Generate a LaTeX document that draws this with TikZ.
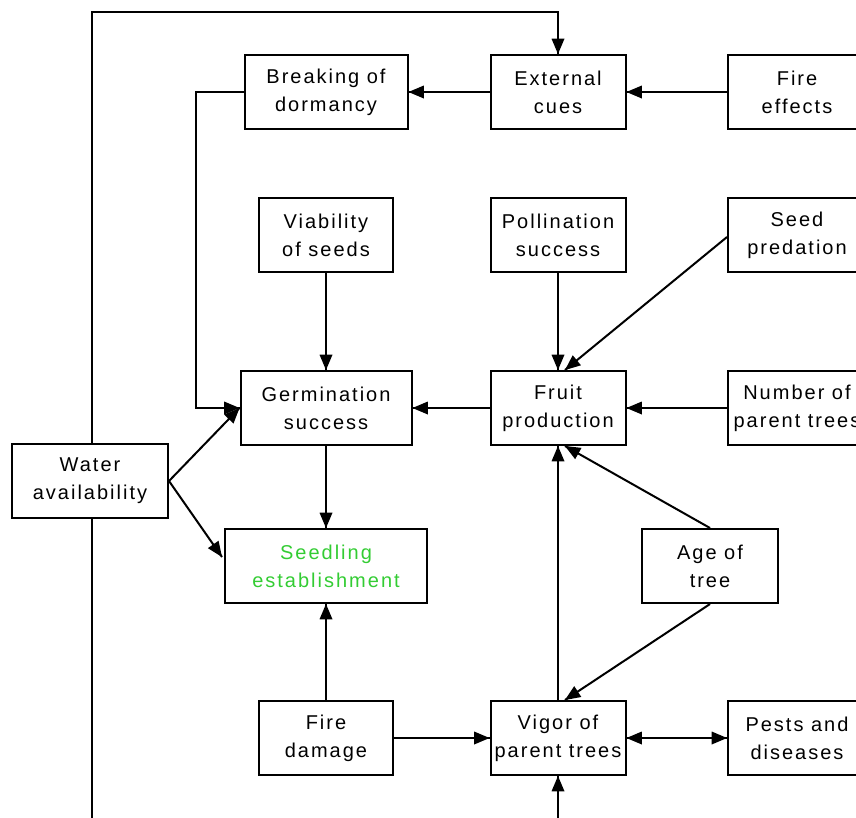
\documentclass[tikz,border=0pt]{standalone}
\usepackage{fontspec}
\newfontfamily\boxfont[LetterSpace=10]{Liberation Sans}
\usepackage{tikz}
\usetikzlibrary{calc}
\usetikzlibrary{arrows,decorations.markings}
\definecolor{seedgreen}{RGB}{51,204,51}
\tikzset{
  box/.style={draw, line width=2pt, inner sep=0pt, align=center,
    minimum width=135pt, minimum height=74pt,
    font=\boxfont\fontsize{20}{28}\selectfont},
  link/.style={line width=2pt},
}

\begin{document}
\begin{tikzpicture}
% define arrow head
[
    x=1pt, y=-1pt,
    decoration={
      markings,
      mark=at position 1 with {\arrow[scale=1.2,black]{triangle 45}};
    }
]
\useasboundingbox (0,0) rectangle (856,817);
\clip (0,0) rectangle (856,817);

% top row
\node[box, minimum width=163pt] (brk) at (326,92) {Breaking of\\dormancy};
\node[box] (ext) at (558,92) {External\\cues};
\node[box, minimum width=138pt] (fef) at (797,92) {Fire\\effects};

% second row
\node[box, minimum width=134pt] (via) at (326,235) {Viability\\of seeds};
\node[box] (pol) at (558,235) {Pollination\\success};
\node[box, minimum width=138pt] (spr) at (797,235) {Seed\\predation};

% third row
\node[box, minimum width=171pt] (ger) at (326,408) {Germination\\success};
\node[box] (fru) at (558,408) {Fruit\\production};
\node[box, minimum width=138pt] (npt) at (797,408) {Number of\\parent trees};

% water, seedlings, age
\node[box, minimum width=156pt] (wat) at (90,481) {Water\\availability};
\node[box, minimum width=202pt, text=seedgreen] (see) at (326,566) {Seedling\\establishment};
\node[box, minimum width=136pt] (age) at (710,566) {Age of\\tree};

% bottom row
\node[box, minimum width=134pt] (fdm) at (326,738) {Fire\\damage};
\node[box] (vig) at (558,738) {Vigor of\\parent trees};
\node[box, minimum width=138pt] (pst) at (797,738) {Pests and\\diseases};

% loop round the top and lines leaving the bottom
\coordinate (loop) at ($(wat.north)+(2,0)$);
\coordinate (loopTop) at (loop |- 0,12);
\coordinate (watEnd) at (loop |- 0,830);
\coordinate (vigEnd) at (vig.south |- 0,830);
\draw[link, postaction={decorate}] (loop) -- (loopTop) -| (ext.north);
\draw[link] ($(wat.south)+(2,0)$) -- (watEnd);
\draw[link, postaction={decorate}] (vigEnd) -- (vig.south);

% arrows
\draw[link, postaction={decorate}] (ext.west) -- (brk.east);
\draw[link, postaction={decorate}] (fef.west) -- (ext.east);
\draw[link, postaction={decorate}] (brk.west) -- ++(-48,0) |- (ger.west);
\draw[link, postaction={decorate}] (via.south) -- (ger.north);
\draw[link, postaction={decorate}] (pol.south) -- (fru.north);
\draw[link, postaction={decorate}] ($(spr.west)+(0,2)$) -- ($(fru.north)+(7,0)$);
\draw[link, postaction={decorate}] (npt.west) -- (fru.east);
\draw[link, postaction={decorate}] (fru.west) -- (ger.east);
\draw[link, postaction={decorate}] (wat.east) -- (ger.west);
\draw[link, postaction={decorate}] (wat.east) -- ($(see.west)+(-2,-9)$);
\draw[link, postaction={decorate}] (ger.south) -- (see.north);
\draw[link, postaction={decorate}] (age.north) -- ($(fru.south)+(7,0)$);
\draw[link, postaction={decorate}] (age.south) -- ($(vig.north)+(7,0)$);
\draw[link, postaction={decorate}] (fdm.north) -- (see.south);
\draw[link, postaction={decorate}] (fdm.east) -- (vig.west);
\draw[link, postaction={decorate}] (vig.north) -- (fru.south);
% both ways between vigor and pests
\draw[link, postaction={decorate}] (vig.east) -- (pst.west);
\draw[link, postaction={decorate}] (pst.west) -- (vig.east);

\end{tikzpicture}
\end{document}
